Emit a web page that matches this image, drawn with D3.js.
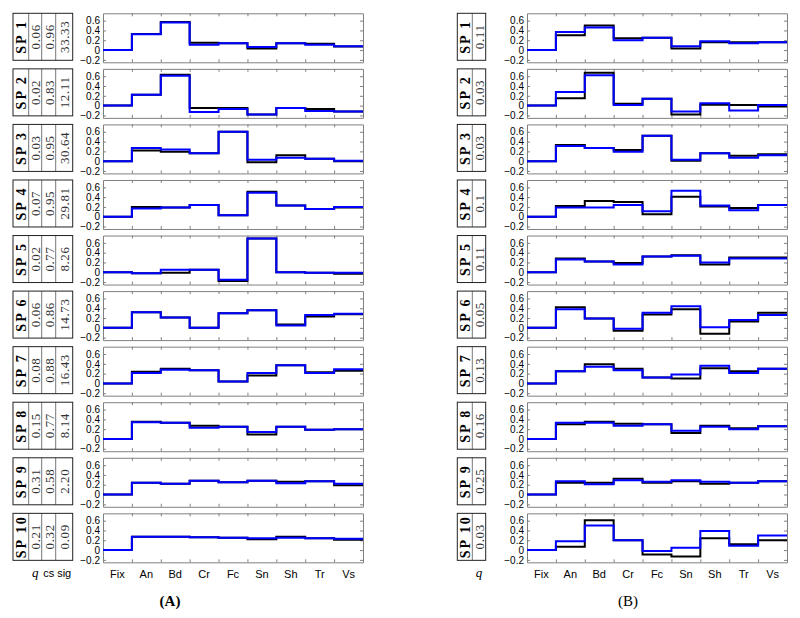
<!DOCTYPE html>
<html>
<head>
<meta charset="utf-8">
<script src="https://cdn.jsdelivr.net/npm/d3@7"></script>
<style>
  body { margin: 0; background: #fff; }
  .axis text { font-family: "Liberation Sans", Arial, sans-serif; font-size: 10px; fill: #000; }
  .axis.xlab text { font-size: 11px; }
  .axis path, .axis line { stroke: #808080; }
</style>
</head>
<body>
<div id="chart"></div>
<script>
// ---------------- data ----------------
var categories = ["Fix", "An", "Bd", "Cr", "Fc", "Sn", "Sh", "Tr", "Vs"];
var spLabels = ["SP 1", "SP 2", "SP 3", "SP 4", "SP 5", "SP 6", "SP 7", "SP 8", "SP 9", "SP 10"];

var qA   = ["0.06", "0.02", "0.03", "0.07", "0.02", "0.06", "0.08", "0.15", "0.31", "0.21"];
var csA  = ["0.96", "0.83", "0.95", "0.95", "0.77", "0.86", "0.88", "0.77", "0.58", "0.32"];
var sigA = ["33.33", "12.11", "30.64", "29.81", "8.26", "14.73", "16.43", "8.14", "2.20", "0.09"];
var qB   = ["0.11", "0.03", "0.03", "0.1", "0.11", "0.05", "0.13", "0.16", "0.25", "0.03"];

// panel A, one row per SP, values for Fix..Vs
var blackA = [
  [0, 0.33, 0.57, 0.15, 0.14, 0.03, 0.14, 0.13, 0.07],
  [0, 0.22, 0.63, -0.05, -0.05, -0.18, -0.05, -0.07, -0.12],
  [0, 0.22, 0.19, 0.16, 0.60, -0.02, 0.12, 0.05, 0.00],
  [0, 0.20, 0.19, 0.24, 0.03, 0.51, 0.23, 0.16, 0.19],
  [0, -0.02, -0.01, 0.05, -0.18, 0.69, 0.00, -0.01, -0.03],
  [0, 0.32, 0.21, 0.00, 0.30, 0.36, 0.07, 0.23, 0.28],
  [0, 0.24, 0.30, 0.27, 0.04, 0.16, 0.37, 0.23, 0.26],
  [0, 0.35, 0.33, 0.27, 0.25, 0.09, 0.25, 0.19, 0.20],
  [0, 0.24, 0.22, 0.28, 0.25, 0.28, 0.26, 0.27, 0.19],
  [0, 0.27, 0.27, 0.26, 0.25, 0.22, 0.27, 0.24, 0.21]
];
var blueA = [
  [0, 0.32, 0.56, 0.11, 0.14, 0.06, 0.14, 0.11, 0.08],
  [0, 0.22, 0.61, -0.13, -0.07, -0.18, -0.05, -0.11, -0.12],
  [0, 0.27, 0.24, 0.16, 0.60, 0.03, 0.07, 0.05, 0.01],
  [0, 0.17, 0.19, 0.24, 0.03, 0.49, 0.23, 0.16, 0.20],
  [0, -0.02, 0.05, 0.05, -0.15, 0.69, 0.00, -0.01, -0.01],
  [0, 0.32, 0.21, 0.00, 0.30, 0.36, 0.05, 0.26, 0.29],
  [0, 0.21, 0.28, 0.27, 0.04, 0.21, 0.37, 0.21, 0.29],
  [0, 0.34, 0.33, 0.23, 0.25, 0.14, 0.25, 0.19, 0.20],
  [0, 0.24, 0.22, 0.28, 0.25, 0.28, 0.23, 0.27, 0.22],
  [0, 0.27, 0.27, 0.26, 0.25, 0.24, 0.25, 0.24, 0.23]
];

// panel B
var blackB = [
  [0, 0.30, 0.50, 0.24, 0.25, 0.03, 0.16, 0.16, 0.16],
  [0, 0.15, 0.67, 0.04, 0.14, -0.18, 0.02, 0.01, -0.02],
  [0, 0.33, 0.27, 0.23, 0.52, 0.01, 0.16, 0.11, 0.14],
  [0, 0.22, 0.32, 0.30, 0.05, 0.41, 0.21, 0.18, 0.24],
  [0, 0.28, 0.22, 0.19, 0.32, 0.35, 0.16, 0.30, 0.30],
  [0, 0.42, 0.19, -0.06, 0.27, 0.38, -0.12, 0.13, 0.31],
  [0, 0.25, 0.39, 0.30, 0.12, 0.10, 0.31, 0.25, 0.30],
  [0, 0.30, 0.35, 0.31, 0.30, 0.12, 0.27, 0.22, 0.26],
  [0, 0.24, 0.24, 0.32, 0.24, 0.27, 0.22, 0.24, 0.27],
  [0, 0.07, 0.61, 0.20, -0.09, -0.13, 0.24, 0.12, 0.20]
];
var blueB = [
  [0, 0.37, 0.46, 0.20, 0.25, 0.08, 0.18, 0.14, 0.16],
  [0, 0.28, 0.62, 0.01, 0.14, -0.12, 0.05, -0.10, 0.01],
  [0, 0.31, 0.27, 0.19, 0.52, 0.03, 0.16, 0.07, 0.12],
  [0, 0.19, 0.19, 0.24, 0.11, 0.53, 0.23, 0.13, 0.24],
  [0, 0.26, 0.22, 0.16, 0.32, 0.34, 0.20, 0.28, 0.28],
  [0, 0.38, 0.19, -0.02, 0.31, 0.44, 0.01, 0.16, 0.26],
  [0, 0.25, 0.34, 0.27, 0.12, 0.18, 0.36, 0.21, 0.30],
  [0, 0.33, 0.33, 0.27, 0.30, 0.17, 0.25, 0.20, 0.26],
  [0, 0.27, 0.21, 0.29, 0.26, 0.29, 0.26, 0.24, 0.27],
  [0, 0.18, 0.50, 0.20, -0.02, 0.05, 0.39, 0.09, 0.30]
];

var yTicks = [-0.2, 0, 0.2, 0.4, 0.6];

// ---------------- layout ----------------
var W = 800, H = 618;
var plotW = 260, plotH = 49, rowStep = 55.56, top0 = 13.3;

var panels = [
  { left: 103, tableX: 13, colW: [15.7, 13, 14, 17], cols: [spLabels, qA, csA, sigA],
    black: blackA, blue: blueA, foot: ["q", "cs", "sig"], title: "(A)", titleBold: true, titleX: 170 },
  { left: 527, tableX: 457.3, colW: [15, 13.4], cols: [spLabels, qB],
    black: blackB, blue: blueB, foot: ["q"], title: "(B)", titleBold: false, titleX: 628 }
];

var svg = d3.select("#chart").append("svg")
    .attr("width", W)
    .attr("height", H);

var x = d3.scaleLinear().domain([0, categories.length]).range([0, plotW]);
var xBand = d3.scaleBand().domain(categories).range([0, plotW]);
var y = d3.scaleLinear().domain([-0.25, 0.75]).range([plotH, 0]);

var stepLine = d3.line()
    .x(function(d) { return x(d[0]); })
    .y(function(d) { return y(d[1]); })
    .curve(d3.curveStepAfter);

function toPoints(vals) {
    var pts = vals.map(function(v, i) { return [i, v]; });
    pts.push([vals.length, vals[vals.length - 1]]);
    return pts;
}

panels.forEach(function(p) {
    spLabels.forEach(function(sp, r) {
        var top = top0 + r * rowStep;
        var g = svg.append("g").attr("transform", "translate(" + p.left + "," + top + ")");

        // y axis left + right (inward ticks)
        g.append("g").attr("class", "axis")
            .call(d3.axisLeft(y).tickValues(yTicks).tickSizeInner(-3).tickSizeOuter(0)
                .tickPadding(3).tickFormat(d3.format(".1~f")));
        g.append("g").attr("class", "axis")
            .attr("transform", "translate(" + plotW + ",0)")
            .call(d3.axisRight(y).tickValues(yTicks).tickSizeInner(-3).tickSizeOuter(0).tickFormat(""));

        // x axis top + bottom (ticks at band edges)
        var edges = d3.range(1, categories.length);
        g.append("g").attr("class", "axis")
            .call(d3.axisTop(x).tickValues(edges).tickSizeInner(-3).tickSizeOuter(0).tickFormat(""));
        g.append("g").attr("class", "axis")
            .attr("transform", "translate(0," + plotH + ")")
            .call(d3.axisBottom(x).tickValues(edges).tickSizeInner(-3).tickSizeOuter(0).tickFormat(""));

        if (r === spLabels.length - 1) {
            g.append("g").attr("class", "axis xlab")
                .attr("transform", "translate(0," + plotH + ")")
                .call(d3.axisBottom(xBand).tickSize(0).tickPadding(8))
                .select(".domain").remove();
        }

        g.append("path")
            .attr("d", stepLine(toPoints(p.black[r])))
            .attr("fill", "none")
            .attr("stroke", "#000")
            .attr("stroke-width", 2);
        g.append("path")
            .attr("d", stepLine(toPoints(p.blue[r])))
            .attr("fill", "none")
            .attr("stroke", "#0000ff")
            .attr("stroke-width", 2);

        // side table
        var tblH = 47;
        var t = svg.append("g").attr("transform", "translate(" + p.tableX + "," + top + ")");
        var cx = 0;
        p.colW.forEach(function(w, c) {
            if (c > 0) {
                t.append("line")
                    .attr("x1", cx).attr("x2", cx)
                    .attr("y1", 0).attr("y2", tblH)
                    .attr("stroke", "#777").attr("stroke-width", 1);
            }
            t.append("text")
                .attr("transform", "translate(" + (cx + w / 2 + 0.5) + "," + (tblH / 2) + ") rotate(-90)")
                .attr("text-anchor", "middle")
                .attr("dominant-baseline", "central")
                .style("font-family", "'Liberation Serif', 'Times New Roman', serif")
                .style("font-size", c === 0 ? "14px" : "13px")
                .style("font-weight", c === 0 ? "bold" : "normal")
                .style("letter-spacing", c === 0 ? "2px" : "0.6px")
                .style("fill", c === 0 ? "#000" : "#333")
                .text(p.cols[c][r]);
            cx += w;
        });
        t.append("rect")
            .attr("width", cx).attr("height", tblH)
            .attr("fill", "none")
            .attr("stroke", "#222").attr("stroke-width", 1);
    });

    // footer labels under table columns
    var fx = p.tableX;
    p.foot.forEach(function(lbl, c) {
        var w = p.colW[c + 1];
        svg.append("text")
            .attr("x", fx + p.colW[0] + d3.sum(p.colW.slice(1, c + 1)) + w / 2)
            .attr("y", 577)
            .attr("text-anchor", "middle")
            .style("font-family", c === 0 ? "'Liberation Serif', serif" : "'Liberation Sans', Arial, sans-serif")
            .style("font-style", c === 0 ? "italic" : "normal")
            .style("font-size", c === 0 ? "13px" : "11px")
            .text(lbl);
    });

    svg.append("text")
        .attr("x", p.titleX)
        .attr("y", 606)
        .attr("text-anchor", "middle")
        .style("font-family", "'Liberation Serif', 'Times New Roman', serif")
        .style("font-size", "15px")
        .style("font-weight", p.titleBold ? "bold" : "normal")
        .text(p.title);
});
</script>
</body>
</html>
